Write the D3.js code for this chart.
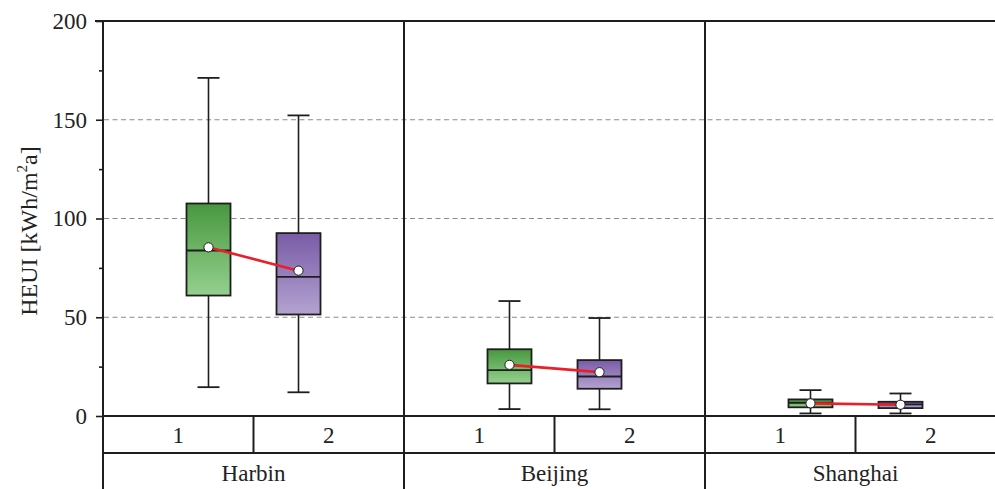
<!DOCTYPE html>
<html>
<head>
<meta charset="utf-8">
<script src="https://cdn.jsdelivr.net/npm/d3@7/dist/d3.min.js"></script>
<style>
  html, body { margin: 0; padding: 0; background: #fff; }
  svg { display: block; font-family: "Liberation Serif", "Times New Roman", serif; }
</style>
</head>
<body>
<svg id="chart" width="995" height="489"></svg>
<script>
// Heating energy use intensity by city and case
const cities = ["Harbin", "Beijing", "Shanghai"];
const cases = ["1", "2"];
// per city: [case 1, case 2]
const whiskerLow  = [[14.6, 12.0], [3.5, 3.4], [1.3, 1.3]];
const q1Values    = [[61.0, 51.4], [16.5, 13.8], [4.4, 4.0]];
const medianVals  = [[83.8, 70.4], [23.2, 20.0], [6.7, 5.9]];
const q3Values    = [[107.6, 92.6], [33.8, 28.3], [8.4, 7.2]];
const whiskerHigh = [[171.2, 152.2], [58.2, 49.6], [13.1, 11.4]];
const meanValues  = [[85.4, 73.6], [25.9, 22.2], [6.4, 5.7]];
const yTicks = [0, 50, 100, 150, 200];
const yMinorTicks = [25, 75, 125, 175];
const gridValues = [50, 100, 150];

const svg = d3.select("#chart");
const plotLeft = 103, plotRight = 1006, plotTop = 21, zeroY = 416, rowY = 453, plotBottom = 489;

const y = d3.scaleLinear().domain([0, 200]).range([zeroY, plotTop]);
const xCity = d3.scaleBand().domain(cities).range([plotLeft, plotRight]);
const xCase = d3.scalePoint().domain(cases).range([0, xCity.bandwidth()]).padding(1.172);

const boxW = 44, capW = 22;
const ink = "#1e1e1e";

// gradients for the two cases
const defs = svg.append("defs");
const gradStops = [["#47983f", "#95d08e"], ["#7a5ba7", "#b3a3d1"]];
gradStops.forEach((g, i) => {
  const lg = defs.append("linearGradient").attr("id", "grad" + i)
    .attr("x1", 0).attr("y1", 0).attr("x2", 0).attr("y2", 1);
  lg.append("stop").attr("offset", "0%").attr("stop-color", g[0]);
  lg.append("stop").attr("offset", "100%").attr("stop-color", g[1]);
});

// dashed grid lines
svg.append("g").selectAll("line").data(gridValues).join("line")
  .attr("x1", plotLeft + 1).attr("x2", plotRight)
  .attr("y1", d => y(d)).attr("y2", d => y(d))
  .attr("stroke", "#8a8a8a").attr("stroke-width", 1.2)
  .attr("stroke-dasharray", "5,3.5");

// y axis with major and minor ticks
const yAxis = svg.append("g").attr("transform", `translate(${plotLeft},0)`)
  .call(d3.axisLeft(y).tickValues(yTicks).tickSize(7).tickPadding(9));
yAxis.select(".domain").remove();
yAxis.selectAll("line").attr("stroke", ink).attr("stroke-width", 1.6);
yAxis.selectAll("text").attr("font-size", 23).attr("fill", "#222")
  .attr("font-family", "Liberation Serif, serif");
svg.append("g").attr("transform", `translate(${plotLeft},0)`)
  .call(d3.axisLeft(y).tickValues(yMinorTicks).tickSize(4).tickFormat(""))
  .call(g => g.select(".domain").remove())
  .selectAll("line").attr("stroke", ink).attr("stroke-width", 1.6);

// axis title
svg.append("text")
  .attr("transform", `translate(37,231) rotate(-90)`)
  .attr("text-anchor", "middle").attr("font-size", 24).attr("fill", "#222")
  .call(t => {
    t.append("tspan").text("HEUI [kWh/m");
    t.append("tspan").attr("font-size", 15).attr("dy", -10).text("2");
    t.append("tspan").attr("dy", 10).text("a]");
  });

// frame lines
const frame = svg.append("g").attr("stroke", ink).attr("stroke-width", 2);
frame.append("line").attr("x1", plotLeft).attr("x2", plotLeft).attr("y1", plotTop - 1).attr("y2", plotBottom);
frame.append("line").attr("x1", plotLeft - 8).attr("x2", plotRight).attr("y1", plotTop).attr("y2", plotTop);
frame.append("line").attr("x1", plotLeft).attr("x2", plotRight).attr("y1", zeroY).attr("y2", zeroY);
frame.append("line").attr("x1", plotLeft).attr("x2", plotRight).attr("y1", rowY).attr("y2", rowY);
frame.selectAll(".cityDiv").data(cities.slice(1)).join("line")
  .attr("x1", d => xCity(d)).attr("x2", d => xCity(d))
  .attr("y1", plotTop).attr("y2", plotBottom);
frame.selectAll(".caseDiv").data(cities).join("line")
  .attr("x1", d => xCity(d) + xCity.bandwidth() / 2)
  .attr("x2", d => xCity(d) + xCity.bandwidth() / 2)
  .attr("y1", zeroY).attr("y2", rowY);

// category labels
const labels = svg.append("g").attr("font-size", 23).attr("fill", "#222").attr("text-anchor", "middle");
cities.forEach(c => {
  cases.forEach(k => {
    labels.append("text")
      .attr("x", xCity(c) + xCity.bandwidth() / 4 * (k === "1" ? 1 : 3))
      .attr("y", 443).text(k);
  });
  labels.append("text").attr("x", xCity(c) + xCity.bandwidth() / 2).attr("y", 481).text(c);
});

// boxes
const boxes = svg.append("g");
cities.forEach((c, ci) => {
  const meanPts = [];
  cases.forEach((k, ki) => {
    const cx = xCity(c) + xCase(k);
    const g = boxes.append("g");
    g.append("line").attr("x1", cx).attr("x2", cx)
      .attr("y1", y(whiskerHigh[ci][ki])).attr("y2", y(q3Values[ci][ki]))
      .attr("stroke", ink).attr("stroke-width", 1.6);
    g.append("line").attr("x1", cx).attr("x2", cx)
      .attr("y1", y(q1Values[ci][ki])).attr("y2", y(whiskerLow[ci][ki]))
      .attr("stroke", ink).attr("stroke-width", 1.6);
    [whiskerHigh[ci][ki], whiskerLow[ci][ki]].forEach(v => {
      g.append("line").attr("x1", cx - capW / 2).attr("x2", cx + capW / 2)
        .attr("y1", y(v)).attr("y2", y(v)).attr("stroke", ink).attr("stroke-width", 1.8);
    });
    g.append("rect").attr("x", cx - boxW / 2).attr("width", boxW)
      .attr("y", y(q3Values[ci][ki]))
      .attr("height", y(q1Values[ci][ki]) - y(q3Values[ci][ki]))
      .attr("fill", `url(#grad${ki})`).attr("stroke", ink).attr("stroke-width", 1.8);
    g.append("line").attr("x1", cx - boxW / 2).attr("x2", cx + boxW / 2)
      .attr("y1", y(medianVals[ci][ki])).attr("y2", y(medianVals[ci][ki]))
      .attr("stroke", ink).attr("stroke-width", 1.8);
    meanPts.push([cx, y(meanValues[ci][ki])]);
  });
  boxes.append("path").attr("d", d3.line()(meanPts))
    .attr("stroke", "#e8202a").attr("stroke-width", 2.6).attr("fill", "none");
  boxes.selectAll(null).data(meanPts).join("circle")
    .attr("cx", d => d[0]).attr("cy", d => d[1]).attr("r", 4.6)
    .attr("fill", "#fff").attr("stroke", ink).attr("stroke-width", 1);
});
</script>
</body>
</html>
